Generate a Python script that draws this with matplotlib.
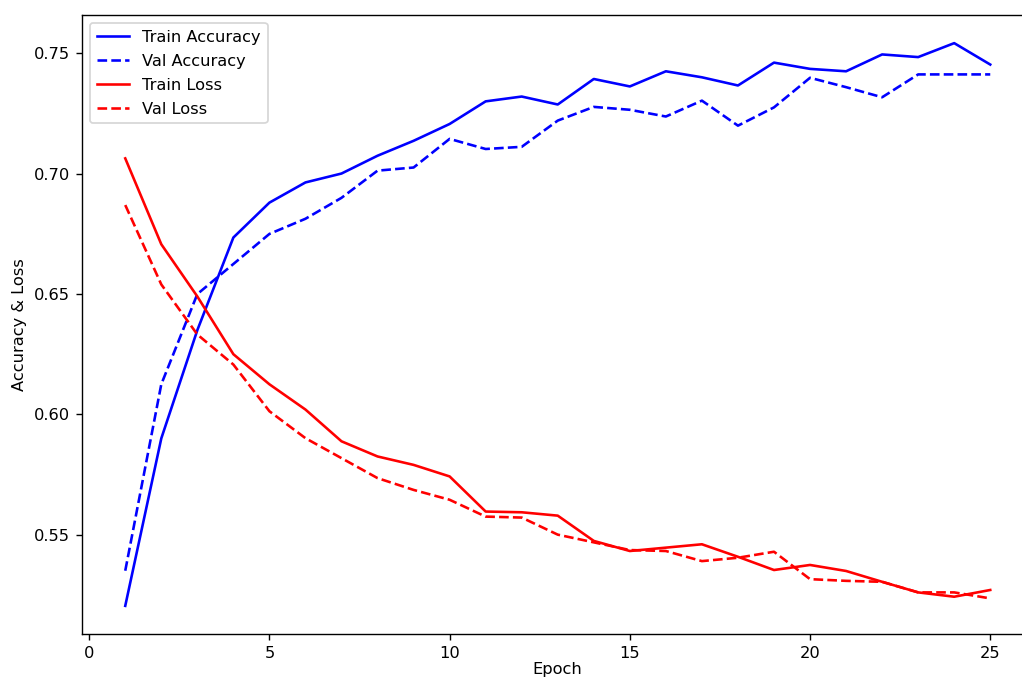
import matplotlib
matplotlib.use("Agg")
import matplotlib.pyplot as plt

epochs = list(range(1, 26))
train_acc = [0.5204, 0.590, 0.635, 0.6735, 0.688, 0.6964, 0.7001, 0.7075, 0.7137, 0.7207,
             0.7301, 0.7321, 0.7288, 0.7394, 0.7363, 0.7426, 0.7401, 0.7367, 0.7462, 0.7436,
             0.7426, 0.7496, 0.7485, 0.7543, 0.7454]
val_acc = [0.5350, 0.6125, 0.650, 0.6625, 0.675, 0.6813, 0.690, 0.7013, 0.7026, 0.7145,
           0.7103, 0.7112, 0.7221, 0.7278, 0.7266, 0.7238, 0.7304, 0.720, 0.7276, 0.7399,
           0.736, 0.7318, 0.7413, 0.7413, 0.7413]
train_loss = [0.7064, 0.6707, 0.649, 0.625, 0.6125, 0.602, 0.5888, 0.5825, 0.579, 0.5742,
              0.5596, 0.5593, 0.5579, 0.5474, 0.5432, 0.5446, 0.546, 0.5408, 0.5353, 0.5374,
              0.5349, 0.5304, 0.526, 0.5242, 0.527]
val_loss = [0.6870, 0.654, 0.6332, 0.6207, 0.6013, 0.5901, 0.5818, 0.5735, 0.5686, 0.5645,
            0.5575, 0.5571, 0.550, 0.5468, 0.5436, 0.5432, 0.539, 0.5404, 0.5429, 0.5315,
            0.5308, 0.5304, 0.526, 0.526, 0.5235]

plt.rcParams["font.size"] = 9.4

fig = plt.figure(figsize=(1022 / 125, 680 / 125), dpi=125)
ax = fig.add_axes([82 / 1022, 1 - 634 / 680, (1033.5 - 82) / 1022, (634 - 15) / 680])

ax.plot(epochs, train_acc, color="blue", linestyle="-", label="Train Accuracy")
ax.plot(epochs, val_acc, color="blue", linestyle="--", label="Val Accuracy")
ax.plot(epochs, train_loss, color="red", linestyle="-", label="Train Loss")
ax.plot(epochs, val_loss, color="red", linestyle="--", label="Val Loss")

ax.set_xlabel("Epoch", labelpad=0.5)
ax.set_ylabel("Accuracy & Loss")
ax.legend(loc="upper left", labelspacing=0.55)

fig.savefig("out.png", dpi=125)
